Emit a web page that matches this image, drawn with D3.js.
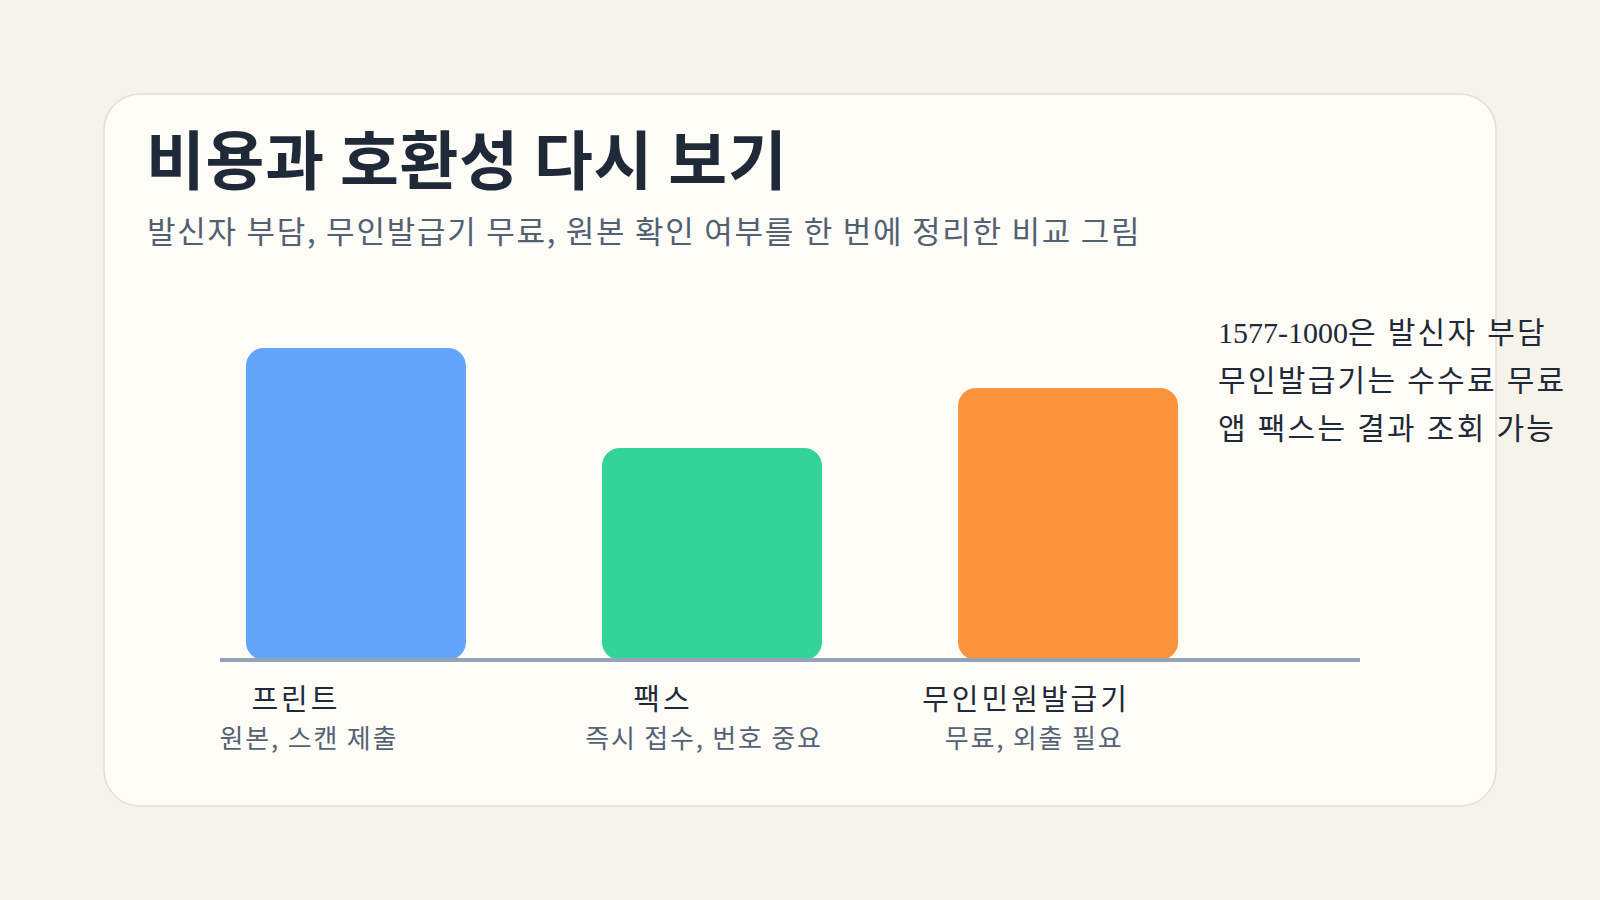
<!DOCTYPE html>
<html>
<head>
<meta charset="utf-8">
<script src="https://cdn.jsdelivr.net/npm/d3@7"></script>
<style>
html,body{margin:0;padding:0;background:#f6f4ea;}
svg{display:block;}
</style>
</head>
<body>
<svg id="chart" width="1600" height="900"></svg>
<script>
// ---- data ----
const categories = ["프린트", "팩스", "무인민원발급기"];
const subLabels = ["원본, 스캔 제출", "즉시 접수, 번호 중요", "무료, 외출 필요"];
const values = [78, 53, 68];
const barColors = ["#60a5fa", "#34d399", "#fb923c"];
const titleText = "비용과 호환성 다시 보기";
const subtitleText = "발신자 부담, 무인발급기 무료, 원본 확인 여부를 한 번에 정리한 비교 그림";
const noteLines = ["1577-1000은 발신자 부담", "무인발급기는 수수료 무료", "앱 팩스는 결과 조회 가능"];

// ---- layout ----
const W = 1600, H = 900;
const svg = d3.select("#chart");
const sans = "'Noto Sans CJK KR', 'Noto Sans', sans-serif";

svg.append("rect").attr("width", W).attr("height", H).attr("fill", "#f6f4ea");
svg.append("rect")
  .attr("x", 104).attr("y", 94).attr("width", 1392).attr("height", 712)
  .attr("rx", 36).attr("ry", 36)
  .attr("fill", "#fdfcf7").attr("stroke", "#e2dfd5").attr("stroke-width", 1.5);

svg.append("text").attr("x", 146).attr("y", 184)
  .attr("font-family", sans).attr("font-weight", 700).attr("font-size", 64)
  .attr("letter-spacing", 0.7)
  .attr("fill", "#1f2937").text(titleText);
svg.append("text").attr("x", 147).attr("y", 243)
  .attr("font-family", sans).attr("font-size", 31)
  .attr("letter-spacing", 1.75)
  .attr("fill", "#526072").text(subtitleText);

const x = d3.scaleBand().domain(categories).range([211, 1213])
  .paddingInner(0.382).paddingOuter(0.098);
const y = d3.scaleLinear().domain([0, 100]).range([660, 260]);

svg.append("g").selectAll("rect").data(categories).join("rect")
  .attr("x", d => x(d))
  .attr("y", (d, i) => y(values[i]))
  .attr("width", x.bandwidth())
  .attr("height", (d, i) => y(0) - y(values[i]))
  .attr("rx", 18).attr("ry", 18)
  .attr("fill", (d, i) => barColors[i]);

svg.append("line").attr("x1", 220).attr("x2", 1360).attr("y1", y(0)).attr("y2", y(0))
  .attr("stroke", "#94a3b8").attr("stroke-width", 4);

const labelDx = [-60, -49, -42];
const subDx = [-47, -8, -34];
svg.append("g").selectAll("text").data(categories).join("text")
  .attr("x", (d, i) => x(d) + x.bandwidth() / 2 + labelDx[i])
  .attr("y", 710)
  .attr("text-anchor", "middle")
  .attr("font-family", sans).attr("font-size", 29)
  .attr("letter-spacing", 3)
  .attr("fill", "#1f2937").text(d => d);
svg.append("g").selectAll("text").data(subLabels).join("text")
  .attr("x", (d, i) => x(categories[i]) + x.bandwidth() / 2 + subDx[i])
  .attr("y", 748)
  .attr("text-anchor", "middle")
  .attr("font-family", sans).attr("font-size", 26)
  .attr("letter-spacing", 1.8)
  .attr("fill", "#556274").text(d => d);

const notes = svg.append("g").selectAll("text").data(noteLines).join("text")
  .attr("x", 1218)
  .attr("y", (d, i) => 343 + i * 48)
  .attr("font-family", "'Liberation Serif', 'Noto Sans CJK KR', serif")
  .attr("font-size", 30)
  .attr("fill", "#1f2937");
notes.selectAll("tspan")
  .data(d => d.match(/[0-9\-]+|[^0-9\-]+/g))
  .join("tspan")
  .attr("letter-spacing", s => /^[0-9\-]+$/.test(s) ? 0 : 2.3)
  .text(s => s);
</script>
</body>
</html>
